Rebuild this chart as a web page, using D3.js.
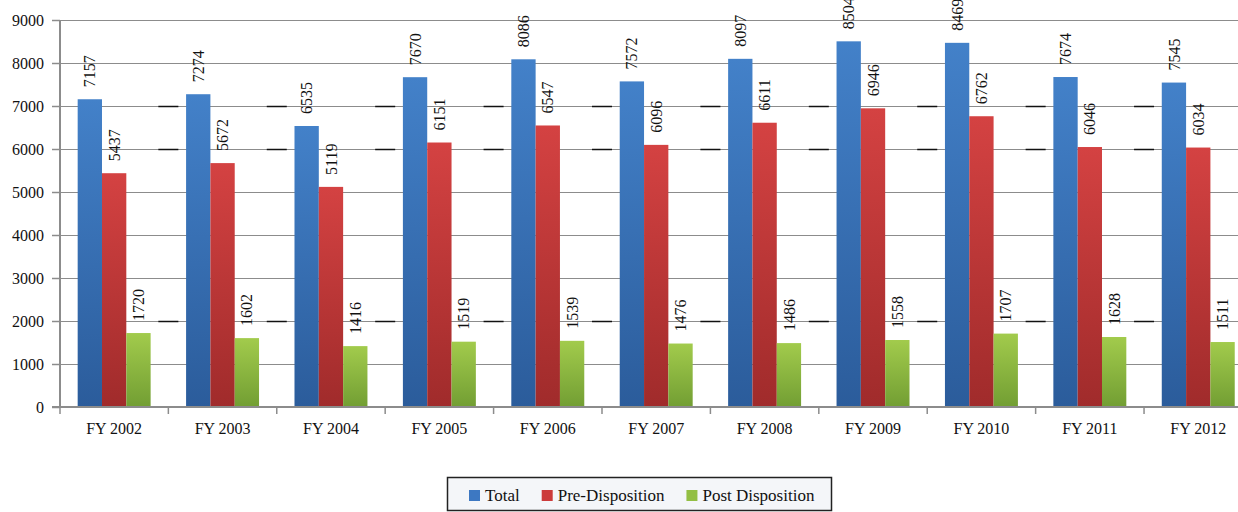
<!DOCTYPE html>
<html><head><meta charset="utf-8">
<script src="https://cdn.jsdelivr.net/npm/d3@7"></script>
<style>body{margin:0;background:#fff}svg{display:block}svg text{font-family:"Liberation Serif","DejaVu Serif",serif !important;fill:#111}</style>
</head><body><svg id="c" width="1238" height="512"></svg>
<script>
const categories = ["FY 2002","FY 2003","FY 2004","FY 2005","FY 2006","FY 2007","FY 2008","FY 2009","FY 2010","FY 2011","FY 2012"];
const seriesNames = ["Total","Pre-Disposition","Post Disposition"];
const totalVals = [7157,7274,6535,7670,8086,7572,8097,8504,8469,7674,7545];
const preVals   = [5437,5672,5119,6151,6547,6096,6611,6946,6762,6046,6034];
const postVals  = [1720,1602,1416,1519,1539,1476,1486,1558,1707,1628,1511];
const yTicks = [0,1000,2000,3000,4000,5000,6000,7000,8000,9000];
const darkGridLevels = [7000,6000,2000];

(function(){
const series = [totalVals, preVals, postVals];
const grads = [["#4381c9","#2b5c9b"],["#d44242","#a02b2b"],["#a2cb4c","#729e33"]];
const legendCols = ["#3d78c2","#cc3b3b","#93bf44"];
const FF = "Liberation Serif, DejaVu Serif, serif";

const svg = d3.select("#c");
const pL = 60, pB = 407, pT = 20;
const bandW = 108.4;
const x = d3.scaleBand().domain(categories).range([pL, pL + bandW*categories.length]).paddingInner(0.327).paddingOuter(0.163);
const xs = d3.scaleBand().domain(d3.range(3)).range([0, x.bandwidth()]);
const y = d3.scaleLinear().domain([0,9000]).range([pB, pT]);

const defs = svg.append("defs");
grads.forEach((g,i)=>{
  const lg = defs.append("linearGradient").attr("id","g"+i).attr("x1",0).attr("y1",0).attr("x2",0).attr("y2",1);
  lg.append("stop").attr("offset","0%").attr("stop-color",g[0]);
  lg.append("stop").attr("offset","100%").attr("stop-color",g[1]);
});

// gridlines
svg.append("g").selectAll("line").data(yTicks.filter(d=>d>0)).join("line")
  .attr("x1",pL).attr("x2",1238).attr("y1",d=>y(d)+0.5).attr("y2",d=>y(d)+0.5)
  .attr("stroke","#8c8c8c").attr("stroke-width",1.2);

// darker segments in the gaps
const bounds = categories.slice(1).map(c=>x(c) - (x.step()-x.bandwidth())/2);
const segs = [];
darkGridLevels.forEach(v=>bounds.forEach(b=>segs.push([b,v])));
svg.append("g").selectAll("line").data(segs).join("line")
  .attr("x1",d=>d[0]-10).attr("x2",d=>d[0]+10).attr("y1",d=>y(d[1])+0.5).attr("y2",d=>y(d[1])+0.5)
  .attr("stroke","#111").attr("stroke-width",1.5);

// bars
const g = svg.append("g");
categories.forEach((c,ci)=>{
  series.forEach((s,si)=>{
    g.append("rect").attr("x",x(c)+xs(si)).attr("width",xs.bandwidth())
      .attr("y",y(s[ci])).attr("height",pB-y(s[ci]))
      .attr("fill","url(#g"+si+")");
  });
});
// labels
categories.forEach((c,ci)=>{
  series.forEach((s,si)=>{
    const cx = x(c)+xs(si)+xs.bandwidth()/2;
    g.append("text").attr("transform",`translate(${cx},${y(s[ci])-12}) rotate(-90)`)
      .attr("dy","0.35em").attr("text-anchor","start").attr("font-size",16).attr("font-family",FF).text(s[ci]);
  });
});

// axes
const yAxis = svg.append("g").attr("transform",`translate(${pL},0)`)
  .call(d3.axisLeft(y).tickValues(yTicks).tickSize(8).tickFormat(d3.format("d")));
yAxis.attr("font-family",FF);
yAxis.select(".domain").attr("stroke","#8c8c8c").attr("stroke-width",2).attr("d",`M0,${pT}V${pB}`);
yAxis.selectAll(".tick line").attr("stroke","#8c8c8c").attr("stroke-width",1.5);
yAxis.selectAll(".tick text").attr("font-size",16).attr("font-family",FF).attr("fill","#111").attr("x",-16);

const xAxisG = svg.append("g").attr("transform",`translate(0,${pB})`);
xAxisG.append("line").attr("x1",pL-8).attr("x2",1238).attr("y1",0).attr("y2",0).attr("stroke","#8c8c8c").attr("stroke-width",2);
const tickXs = [pL].concat(bounds, [x(categories[categories.length-1])+x.bandwidth()+(x.step()-x.bandwidth())/2]);
xAxisG.selectAll("line.t").data(tickXs).join("line").attr("class","t")
  .attr("x1",d=>d).attr("x2",d=>d).attr("y1",0).attr("y2",7).attr("stroke","#8c8c8c").attr("stroke-width",1.5);
xAxisG.selectAll("text").data(categories).join("text")
  .attr("x",d=>x(d)+x.bandwidth()/2).attr("y",27).attr("text-anchor","middle").attr("font-size",16).attr("font-family",FF).text(d=>d);

// legend
const lg = svg.append("g");
lg.append("rect").attr("x",447.5).attr("y",477.5).attr("width",384).attr("height",33)
  .attr("fill","#f4f6f9").attr("stroke","#222").attr("stroke-width",1.5);
let lx = 469;
seriesNames.forEach((n,i)=>{
  lg.append("rect").attr("x",lx).attr("y",490).attr("width",11).attr("height",11).attr("fill",legendCols[i]);
  const t = lg.append("text").attr("x",lx+16).attr("y",501).attr("font-size",17).attr("font-family",FF).text(n);
  lx += 16 + t.node().getComputedTextLength() + 22;
});
})();
</script></body></html>
